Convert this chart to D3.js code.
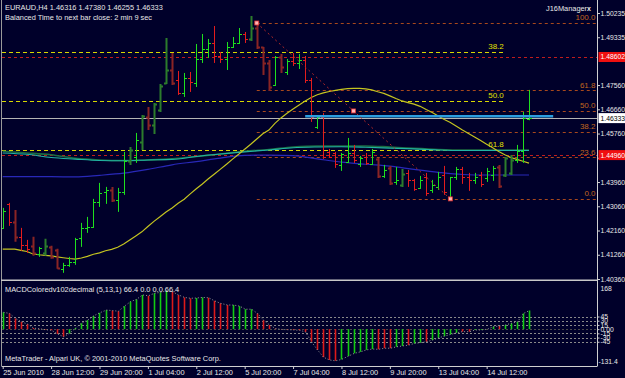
<!DOCTYPE html>
<html>
<head>
<meta charset="utf-8">
<script src="https://cdn.jsdelivr.net/npm/d3@7"></script>
<style>
    body { margin: 0; background: #00002a; }
    svg { display: block; }
    text { font-family: "Liberation Sans", Arial, sans-serif; }
</style>
</head>
<body>
<div id="chart"></div>
<script>
// ---- EURAUD H4 bars ----
const barOpen = [1.42258,1.43149,1.42481,1.41924,1.41628,1.41590,1.41294,1.41331,1.41553,1.41442,
    1.40737,1.40886,1.40997,1.41887,1.42258,1.42295,1.43223,1.43594,1.43668,1.43297,
    1.43594,1.44744,1.44892,1.45449,1.46376,1.46080,1.46636,1.47638,1.48120,1.47749,
    1.47267,1.47823,1.47638,1.48528,1.48899,1.49122,1.48639,1.48528,1.48973,1.49122,
    1.49456,1.49270,1.49678,1.48973,1.48380,1.47564,1.48602,1.48046,1.48454,1.48380,
    1.48491,1.47749,1.46005,1.46376,1.45078,1.45041,1.44596,1.44707,1.45041,1.44633,
    1.44892,1.44633,1.44818,1.44187,1.44484,1.43965,1.43854,1.44299,1.44039,1.43742,
    1.44150,1.43668,1.43779,1.44225,1.43408,1.44150,1.44447,1.44150,1.44039,1.44225,
    1.44113,1.44225,1.44521,1.44225,1.44299,1.44781,1.45115,1.46316];
const barHigh = [1.43000,1.43186,1.42926,1.42258,1.41813,1.41924,1.41553,1.41850,1.41590,1.41479,
    1.40960,1.41182,1.41887,1.42444,1.42666,1.43334,1.43928,1.43779,1.43779,1.43742,
    1.45078,1.45263,1.45783,1.46451,1.46747,1.46896,1.47601,1.49307,1.48751,1.48083,
    1.48009,1.48046,1.49085,1.49456,1.49270,1.49752,1.48788,1.49159,1.49344,1.49678,
    1.49530,1.50123,1.49864,1.48973,1.48491,1.48639,1.48714,1.48528,1.48751,1.48714,
    1.48639,1.47823,1.46413,1.46525,1.45189,1.45078,1.45041,1.45597,1.45338,1.44929,
    1.45041,1.45189,1.44855,1.44596,1.44558,1.44521,1.44447,1.44410,1.44076,1.44187,
    1.44299,1.44039,1.44336,1.44558,1.44150,1.44521,1.44521,1.44299,1.44299,1.44336,
    1.44484,1.44558,1.44596,1.44892,1.44967,1.45338,1.46562,1.47380];
const barLow = [1.42221,1.42332,1.41739,1.41405,1.41331,1.41219,1.41182,1.41219,1.41108,1.40737,
    1.40589,1.40811,1.40886,1.41553,1.42073,1.42258,1.43037,1.43149,1.43223,1.42852,
    1.43483,1.44596,1.44670,1.45152,1.45894,1.45746,1.46562,1.47601,1.47564,1.47193,
    1.47118,1.47304,1.47489,1.48380,1.48565,1.48380,1.48380,1.48120,1.48936,1.49085,
    1.49122,1.49196,1.48899,1.47935,1.47341,1.47526,1.48009,1.47935,1.48268,1.48157,
    1.47638,1.46191,1.45931,1.44818,1.44855,1.44484,1.44373,1.44670,1.44670,1.44521,
    1.44596,1.44596,1.44113,1.44113,1.43854,1.43854,1.43779,1.43779,1.43631,1.43705,
    1.43445,1.43557,1.43668,1.43483,1.43334,1.44039,1.43891,1.43631,1.43891,1.43779,
    1.43965,1.44002,1.43742,1.44150,1.44225,1.44670,1.44670,1.46255];
const barClose = [1.42889,1.42481,1.41924,1.41628,1.41479,1.41331,1.41516,1.41590,1.41182,1.40774,
    1.40886,1.40997,1.41850,1.42258,1.42295,1.43223,1.43557,1.43668,1.43297,1.43594,
    1.44744,1.45152,1.45523,1.46413,1.46080,1.46859,1.47526,1.48120,1.47638,1.47267,
    1.47823,1.47675,1.48528,1.48899,1.49122,1.48639,1.48528,1.48973,1.49122,1.49456,
    1.49270,1.49678,1.48973,1.48380,1.47489,1.48602,1.48231,1.48454,1.48380,1.48491,
    1.47749,1.46376,1.46376,1.44892,1.44892,1.44633,1.45004,1.45041,1.44781,1.44855,
    1.44670,1.45078,1.44187,1.44410,1.43928,1.44039,1.44262,1.44039,1.43705,1.44039,
    1.43557,1.43854,1.44150,1.43594,1.44150,1.44447,1.44150,1.44039,1.44150,1.43891,
    1.44373,1.44484,1.43816,1.44855,1.44781,1.45115,1.46339,1.46333];
// bars painted over in the darker shade by the overlay indicator
const shadedBars = [2,5,7,8,9,18,21,23,24,25,26,27,28,41,42,43,44,46,62,64,66,82,83,84];

// yellow moving average, one value per bar
const maYellow = [1.4147,1.4147,1.4147,1.4142,1.4138,1.4129,1.4126,1.4124,1.4122,1.4118,
    1.4115,1.4112,1.4110,1.4114,1.4120,1.4128,1.4133,1.4141,1.4146,1.4154,
    1.4166,1.4181,1.4196,1.4211,1.4231,1.4250,1.4267,1.4285,1.4300,1.4317,
    1.4332,1.4352,1.4371,1.4389,1.4408,1.4426,1.4444,1.4462,1.4481,1.4499,
    1.4518,1.4536,1.4556,1.4575,1.4589,1.4614,1.4634,1.4651,1.4667,1.4682,
    1.4697,1.4710,1.4720,1.4727,1.4732,1.4736,1.4740,1.4743,1.4744,1.4744,
    1.4742,1.4738,1.4731,1.4725,1.4716,1.4706,1.4697,1.4691,1.4685,1.4677,
    1.4665,1.4654,1.4641,1.4628,1.4617,1.4603,1.4589,1.4576,1.4563,1.4550,
    1.4536,1.4523,1.4509,1.4497,1.4487,1.4480,1.4473,1.4466];
// slow averages, read every fourth bar
const slowIdx = [0,4,8,12,16,20,24,28,32,36,40,44,48,52,56,60,64,68,72,76,80,84,87];
const maTeal = [1.4504,1.4499,1.4487,1.4481,1.4476,1.4475,1.4478,1.4480,1.4491,1.4500,1.4508,1.4515,
    1.4523,1.4526,1.4527,1.4525,1.4522,1.4519,1.4515,1.4513,1.4513,1.4513,1.4513];
const maGreen = [1.4510,1.4504,1.4497,1.4484,1.4478,1.4476,1.4478,1.4482,1.4491,1.4500,1.4510,1.4517,
    1.4526,1.4530,1.4530,1.4530,1.4526,1.4521,1.4517,1.4515,1.4515,1.4515,1.4515];
const maBlue = [1.4416,1.4416,1.4416,1.4415,1.4421,1.4429,1.4443,1.4460,1.4472,1.4485,1.4495,1.4496,
    1.4494,1.4482,1.4470,1.4462,1.4455,1.4443,1.4432,1.4424,1.4422,1.4422,1.4422];

// MACD histogram (1 = green, 0 = red)
const macdHist = [60,56,38,26,18,4,1,-2,-4,-17,-27,-15,4,21,32,47,58,68,66,64,
    82,98,106,122,119,128,131,137,133,122,113,110,111,113,112,101,92,86,86,82,
    71,71,56,32,15,2,-1,-2,-3,-4,-10,-45,-74,-100,-110,-113,-108,-96,-86,-81,
    -74,-71,-72,-68,-68,-63,-60,-57,-51,-48,-45,-39,-31,-25,-19,-13,-9,-9,-3,-3,
    0,9,11,15,21,26,56,66.4];
const macdUp = [1,0,0,0,0,0,0,0,0,0,0,1,1,1,1,1,1,1,0,0,
    1,1,1,1,0,1,1,1,0,0,0,0,1,1,0,0,0,0,1,1,
    1,1,0,0,0,0,0,0,0,0,0,0,0,0,0,0,1,1,1,1,
    1,1,0,0,0,1,1,0,1,1,0,1,1,1,1,1,0,0,1,1,
    1,1,0,1,1,1,1,1];
const macdLevels = [45, 30, 15, 0, -15, -30, -45];

// fibonacci objects and manager lines
const fibLevels = [0, 23.6, 38.2, 50, 61.8, 100];
const fibA = {bar: 42, price: 1.49864};   // 100.0
const fibB = {bar: 74, price: 1.43334};   // 0.0
const fibYellowTop = 1.5464, fibYellowBottom = 1.3930, fibYellowEnd = 83;
const yellowLevels = [38.2, 50, 61.8];
const managerLevels = [1.48602, 1.44960];
const blueLine = {price: 1.4640, from: 50, to: 91};
const bid = 1.46333;

const priceTicks = [1.50235,1.49335,1.47560,1.46660,1.45760,1.44860,1.43960,1.43060,1.42160,1.41260,1.40360];
const timeIdx = [0,8,16,24,32,40,48,56,64,72,80];
const timeLabels = ['25 Jun 2010','28 Jun 12:00','29 Jun 20:00','1 Jul 04:00','2 Jul 12:00','5 Jul 20:00',
    '7 Jul 04:00','8 Jul 12:00','9 Jul 20:00','13 Jul 04:00','14 Jul 12:00'];

const W = 625, H = 378;
const axisX = 597.5, mainBottom = 280, subTop = 282, subBottom = 366;
const font = '7.4px';
const axisFont = '6.8px';

const svg = d3.select('#chart').append('svg')
    .attr('width', W)
    .attr('height', H)
    .style('background', '#00002a');

const x = d3.scaleLinear().domain([0, 87]).range([2.7, 529]);
const y = d3.scaleLinear().domain([1.40360, 1.50235]).range([279, 13]);
const ym = d3.scaleLinear().domain([-131.4, 168]).range([subBottom, subTop]);
const px = i => Math.round(x(i)) + 0.5;

svg.append('clipPath').attr('id', 'clipMain')
    .append('rect').attr('x', 2).attr('y', 0).attr('width', axisX - 2).attr('height', mainBottom - 1);

const main = svg.append('g').attr('clip-path', 'url(#clipMain)');

// manager lines (dashed red, full width)
main.selectAll('.mgr')
    .data(managerLevels)
    .join('line')
    .attr('x1', 2).attr('x2', axisX)
    .attr('y1', d => Math.round(y(d)) + 0.5).attr('y2', d => Math.round(y(d)) + 0.5)
    .attr('stroke', '#c01c1c')
    .attr('stroke-dasharray', '3,3');

// yellow fibonacci (anchored off the left edge)
const yellowPrice = lv => fibYellowTop - (fibYellowTop - fibYellowBottom) * lv / 100;
main.selectAll('.yfib')
    .data(yellowLevels)
    .join('line')
    .attr('x1', 2).attr('x2', x(fibYellowEnd))
    .attr('y1', d => Math.round(y(yellowPrice(d))) + 0.5).attr('y2', d => Math.round(y(yellowPrice(d))) + 0.5)
    .attr('stroke', '#d8d800')
    .attr('stroke-dasharray', '4,3');
main.selectAll('.yfibText')
    .data(yellowLevels)
    .join('text')
    .attr('x', x(fibYellowEnd) - 1)
    .attr('y', d => y(yellowPrice(d)) - 3)
    .attr('text-anchor', 'end')
    .attr('fill', '#e0e000')
    .style('font-size', '8px')
    .text(d => d.toFixed(1));

// orange fibonacci retracement
const fibPrice = lv => fibB.price + (fibA.price - fibB.price) * lv / 100;
main.selectAll('.fib')
    .data(fibLevels)
    .join('line')
    .attr('x1', x(fibA.bar)).attr('x2', axisX)
    .attr('y1', d => Math.round(y(fibPrice(d))) + 0.5).attr('y2', d => Math.round(y(fibPrice(d))) + 0.5)
    .attr('stroke', '#a8481c')
    .attr('stroke-dasharray', '3,3');
main.selectAll('.fibText')
    .data(fibLevels)
    .join('text')
    .attr('x', axisX - 2)
    .attr('y', d => y(fibPrice(d)) - 2.5)
    .attr('text-anchor', 'end')
    .attr('fill', '#c0661e')
    .style('font-size', '8px')
    .text(d => d.toFixed(1));

// bid line
main.append('line')
    .attr('x1', 2).attr('x2', axisX)
    .attr('y1', Math.round(y(bid)) + 0.5).attr('y2', Math.round(y(bid)) + 0.5)
    .attr('stroke', '#b4b4b4');

// moving averages
const lineAll = d3.line().x((d, i) => x(i)).y(d => y(d));
const lineSlow = d3.line().x((d, i) => x(slowIdx[i])).y(d => y(d)).curve(d3.curveMonotoneX);

main.append('path').attr('d', lineSlow(maBlue))
    .attr('fill', 'none').attr('stroke', '#2828b8').attr('stroke-width', 1.2);
main.append('path').attr('d', lineSlow(maGreen))
    .attr('fill', 'none').attr('stroke', '#1c6a40').attr('stroke-width', 1.6);
main.append('path').attr('d', lineSlow(maTeal))
    .attr('fill', 'none').attr('stroke', '#22b4a4').attr('stroke-width', 1.1);
main.append('path').attr('d', lineAll(maYellow))
    .attr('fill', 'none').attr('stroke', '#c4c420').attr('stroke-width', 1.2);

// price bars
const bars = barOpen.map((o, i) => ({
    i: i, o: o, h: barHigh[i], l: barLow[i], c: barClose[i],
    shaded: shadedBars.includes(i)
}));

main.selectAll('.bar')
    .data(bars)
    .join('path')
    .attr('class', 'bar')
    .attr('d', d => {
        const bx = px(d.i);
        return `M${bx},${y(d.h)}V${y(d.l)}`
            + `M${bx - 2.5},${Math.round(y(d.o)) + 0.5}H${bx}`
            + `M${bx},${Math.round(y(d.c)) + 0.5}H${bx + 2.5}`;
    })
    .attr('fill', 'none')
    .attr('stroke', d => {
        const up = d.c >= d.o;
        if (d.shaded) return up ? '#2c7c2c' : '#8a2424';
        return up ? '#1ee01e' : '#e41c1c';
    })
    .attr('stroke-width', d => d.shaded ? 2 : 1);

// blue manager line
main.append('line')
    .attr('x1', x(blueLine.from)).attr('x2', x(blueLine.to))
    .attr('y1', y(blueLine.price)).attr('y2', y(blueLine.price))
    .attr('stroke', '#2c9ede')
    .attr('stroke-width', 2.5);

// diagonal of the fibonacci object and its handles
main.append('line')
    .attr('x1', x(fibA.bar)).attr('y1', y(fibA.price))
    .attr('x2', x(fibB.bar)).attr('y2', y(fibB.price))
    .attr('stroke', '#b02828')
    .attr('stroke-dasharray', '2,3');
const handles = [fibA, {bar: (fibA.bar + fibB.bar) / 2, price: (fibA.price + fibB.price) / 2}, fibB];
main.selectAll('.handle')
    .data(handles)
    .join('rect')
    .attr('x', d => x(d.bar) - 2).attr('y', d => y(d.price) - 2)
    .attr('width', 4).attr('height', 4)
    .attr('fill', '#ffb4b4')
    .attr('stroke', '#e03030')
    .attr('stroke-width', 0.8);

// frame
svg.append('line').attr('x1', 1.5).attr('x2', 1.5).attr('y1', 0).attr('y2', subBottom)
    .attr('stroke', '#9a9a9a');
svg.append('line').attr('x1', axisX).attr('x2', axisX).attr('y1', 0).attr('y2', subBottom)
    .attr('stroke', '#d0d0d0');
svg.append('rect').attr('x', 1).attr('y', mainBottom - 0.5).attr('width', axisX - 1).attr('height', 1.5)
    .attr('fill', '#c8c8c8');
svg.append('line').attr('x1', 1.5).attr('x2', axisX).attr('y1', subBottom + 0.5).attr('y2', subBottom + 0.5)
    .attr('stroke', '#d0d0d0');

// price axis
const yAxis = d3.axisRight(y)
    .tickValues(priceTicks)
    .tickFormat(d3.format('.5f'))
    .tickSize(2.5)
    .tickPadding(0.5);
const yAxisG = svg.append('g')
    .attr('transform', `translate(${axisX},0)`)
    .call(yAxis);
yAxisG.select('.domain').remove();
yAxisG.selectAll('line').attr('stroke', '#d0d0d0');
yAxisG.selectAll('text').attr('fill', '#e8e8e8').style('font-size', axisFont)
    .style('font-family', '"Liberation Sans", Arial, sans-serif');

// price labels on the axis
function axisTag(price, bg, fg) {
    const g = svg.append('g').attr('transform', `translate(${axisX + 1},${y(price)})`);
    g.append('rect').attr('x', 0).attr('y', -5).attr('width', 28).attr('height', 10).attr('fill', bg);
    g.append('text').attr('x', 2).attr('y', 2.5).attr('fill', fg).style('font-size', axisFont)
        .text(d3.format('.5f')(price));
}
managerLevels.forEach(p => axisTag(p, '#f01010', '#ffffff'));
axisTag(bid, '#ffffff', '#000000');

// MACD panel
const sub = svg.append('g');
sub.selectAll('.lvl')
    .data(macdLevels)
    .join('line')
    .attr('x1', 2).attr('x2', axisX)
    .attr('y1', d => Math.round(ym(d)) + 0.5).attr('y2', d => Math.round(ym(d)) + 0.5)
    .attr('stroke', d => d === 0 ? '#4a4a4a' : '#8a8a8a')
    .attr('stroke-dasharray', '2,2');

sub.selectAll('.hist')
    .data(macdHist)
    .join('line')
    .attr('x1', (d, i) => px(i)).attr('x2', (d, i) => px(i))
    .attr('y1', ym(0)).attr('y2', d => ym(d))
    .attr('stroke', (d, i) => macdUp[i] ? '#12cc12' : '#dc1a1a')
    .attr('stroke-width', 1.6);

sub.append('path')
    .attr('d', d3.line().x((d, i) => px(i)).y(d => ym(d))(macdHist))
    .attr('fill', 'none')
    .attr('stroke', '#9a9a9a')
    .attr('stroke-dasharray', '1,2');

const mAxis = d3.axisRight(ym)
    .tickValues(macdLevels)
    .tickFormat(d => d === 0 ? '0.00' : d)
    .tickSize(2)
    .tickPadding(1);
const mAxisG = svg.append('g').attr('transform', `translate(${axisX},0)`).call(mAxis);
mAxisG.select('.domain').remove();
mAxisG.selectAll('line').attr('stroke', '#d0d0d0');
mAxisG.selectAll('text').attr('fill', '#e8e8e8').style('font-size', axisFont)
    .style('font-family', '"Liberation Sans", Arial, sans-serif');

svg.append('text').attr('x', axisX + 3).attr('y', ym(168) + 9)
    .attr('fill', '#e8e8e8').style('font-size', axisFont).text('168');
svg.append('text').attr('x', axisX + 1).attr('y', ym(-131.4) - 2)
    .attr('fill', '#e8e8e8').style('font-size', axisFont).text('-131.4');

// time axis
const xAxis = d3.axisBottom(x)
    .tickValues(timeIdx)
    .tickFormat((d, i) => timeLabels[i])
    .tickSize(3)
    .tickPadding(1);
const xAxisG = svg.append('g').attr('transform', `translate(0,${subBottom})`).call(xAxis);
xAxisG.select('.domain').remove();
xAxisG.selectAll('line').attr('stroke', '#d0d0d0');
xAxisG.selectAll('text')
    .attr('text-anchor', 'start')
    .attr('dx', 0)
    .attr('fill', '#e8e8e8')
    .style('font-size', font)
    .style('font-family', '"Liberation Sans", Arial, sans-serif');

// texts
const info = [
    {t: 'EURAUD,H4  1.46316 1.47380 1.46255 1.46333', yy: 10},
    {t: 'Balanced Time to next bar close: 2 min 9 sec', yy: 19.5},
    {t: 'MACDColoredv102decimal (5,13,1) 66.4 0.0 0.0 66.4', yy: 292},
    {t: 'MetaTrader - Alpari UK, \u00a9 2001-2010 MetaQuotes Software Corp.', yy: 361}
];
svg.selectAll('.info')
    .data(info)
    .join('text')
    .attr('x', 5)
    .attr('y', d => d.yy)
    .attr('fill', '#e8e8e8')
    .style('font-size', font)
    .text(d => d.t);

svg.append('text').attr('x', 546).attr('y', 11)
    .attr('fill', '#e8e8e8').style('font-size', font).text('J16Manager');
svg.append('text').attr('x', 587).attr('y', 11)
    .attr('fill', '#e8e8e8').style('font-size', '7px').style('font-weight', 'bold').text('x');
</script>
</body>
</html>
